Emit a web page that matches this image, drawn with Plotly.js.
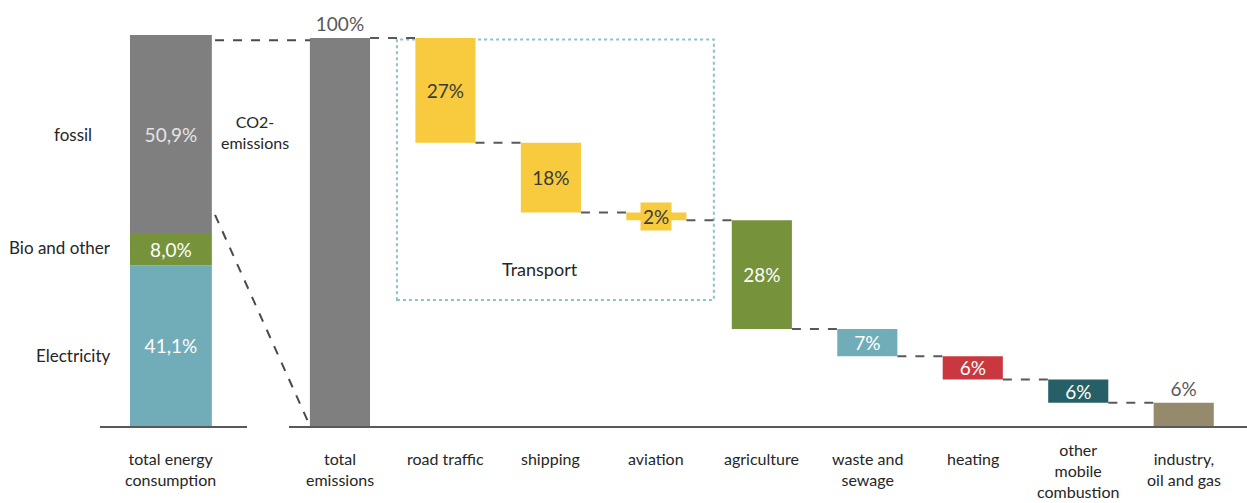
<!DOCTYPE html>
<html>
<head>
<meta charset="utf-8">
<script src="https://cdn.plot.ly/plotly-3.0.1.min.js"></script>
<style>html,body{margin:0;padding:0;background:#fff;}#chart{width:1247px;height:503px;}</style>
</head>
<body>
<div id="chart"></div>
<script>
// ---- data ----
const energyCategory = ['total energy<br>consumption'];
const energyLabels = ['Electricity', 'Bio and other', 'fossil'];   // bottom to top
const energyValues = [41.1, 8.0, 50.9];
const energyText = ['41,1%', '8,0%', '50,9%'];
const energyColors = ['#71adb9', '#76923b', '#7f7f7f'];
const energyTextColors = ['#ffffff', '#ffffff', '#e4e4e4'];

const emissionCategories = ['total<br>emissions', 'road traffic', 'shipping', 'aviation', 'agriculture',
  'waste and<br>sewage', 'heating', 'other<br>mobile<br>combustion', 'industry,<br>oil and gas'];
const emissionValues = [100, 27, 18, 2, 28, 7, 6, 6, 6];
const emissionText = ['100%', '27%', '18%', '2%', '28%', '7%', '6%', '6%', '6%'];
const emissionColors = ['#7f7f7f', '#f8cb3e', '#f8cb3e', '#f8cb3e', '#76923b', '#71adb9', '#c9383f', '#265f66', '#958a6c'];
const emissionTextColors = ['#595959', '#3a3a3a', '#3a3a3a', '#3a3a3a', '#ffffff', '#ffffff', '#ffffff', '#ffffff', '#595959'];
const emissionTextPos = ['outside', 'inside', 'inside', 'none', 'inside', 'inside', 'inside', 'inside', 'outside'];

// ---- derived ----
const FONT = 'Lato, "Open Sans", sans-serif';
const energyBase = [];
let acc = 0;
energyValues.forEach(v => { energyBase.push(acc); acc += v; });

const emisX = emissionValues.map((_, i) => i);
const emisBase = [];
const levels = [];
let level = 0;
emissionValues.forEach((v, i) => {
  if (i === 0) { emisBase.push(0); level = v; }
  else { emisBase.push(level - v); level = level - v; }
  levels.push(level);
});
const W = 0.57;
const connX = [], connY = [];
for (let i = 0; i < emissionValues.length - 1; i++) {
  connX.push(i + W / 2, i + 1 - W / 2, null);
  connY.push(levels[i], levels[i], null);
}

const traces = [];
energyValues.forEach((v, i) => {
  traces.push({
    type: 'bar', x: [0], y: [v], base: [energyBase[i]], width: 1.0,
    xaxis: 'x', yaxis: 'y', name: energyLabels[i],
    marker: {color: energyColors[i]},
    text: [energyText[i]], textposition: 'inside', insidetextanchor: 'middle',
    textfont: {family: FONT, size: 19, color: energyTextColors[i]},
    constraintext: 'none', hoverinfo: 'skip'
  });
});
traces.push({
  type: 'bar', x: emisX, y: emissionValues, base: emisBase, width: W,
  xaxis: 'x2', yaxis: 'y2',
  marker: {color: emissionColors},
  text: emissionText, textposition: emissionTextPos, insidetextanchor: 'middle',
  textfont: {family: FONT, size: 19, color: emissionTextColors},
  constraintext: 'none', cliponaxis: false, hoverinfo: 'skip'
});
traces.push({
  type: 'scatter', mode: 'lines', x: connX, y: connY, xaxis: 'x2', yaxis: 'y2',
  line: {color: '#595959', width: 2, dash: 'dash'}, hoverinfo: 'skip', connectgaps: false
});

// label annotations
const annotations = [];
const sideX = [0.011, 0.011, -0.0235];
const sideAnchor = ['right', 'right', 'center'];
const sideShift = [-10, 2, 0];
energyValues.forEach((v, i) => {
  annotations.push({
    xref: 'paper', yref: 'y', x: sideX[i], y: energyBase[i] + v / 2, yshift: sideShift[i],
    text: energyLabels[i], showarrow: false, xanchor: sideAnchor[i], yanchor: 'middle',
    font: {family: FONT, size: 17, color: '#262626'}
  });
});
annotations.push({
  xref: 'x2', yref: 'y2', x: 3, y: emisBase[3] + emissionValues[3] / 2,
  text: emissionText[3], showarrow: false, bgcolor: '#f8cb3e', borderpad: 2,
  xanchor: 'center', yanchor: 'middle',
  font: {family: FONT, size: 19, color: '#3a3a3a'}
});
annotations.push({
  xref: 'paper', yref: 'y2', x: 0.135, y: 75.8, text: 'CO2-<br>emissions', showarrow: false,
  xanchor: 'center', yanchor: 'middle',
  font: {family: FONT, size: 16, color: '#262626'}
});
annotations.push({
  xref: 'x2', yref: 'y2', x: 1.9, y: 40.5, text: 'Transport', showarrow: false,
  xanchor: 'center', yanchor: 'middle',
  font: {family: FONT, size: 18, color: '#262626'}
});

// category labels under the axes (placed via the axes' own x scale)
const catFont = {family: FONT, size: 16, color: '#262626'};
function catLabel(xref, x, text) {
  const lines = text.split('<br>').length;
  if (lines >= 3) {
    return {xref: xref, yref: 'paper', x: x, y: -0.1033, text: text, showarrow: false,
      xanchor: 'center', yanchor: 'middle', font: catFont};
  }
  return {xref: xref, yref: 'paper', x: x, y: -0.05, text: text, showarrow: false,
    xanchor: 'center', yanchor: 'top', font: catFont};
}
energyCategory.forEach((c, i) => annotations.push(catLabel('x', i, c)));
emissionCategories.forEach((c, i) => annotations.push(catLabel('x2', emisX[i], c)));

const shapes = [
  {type: 'rect', xref: 'x2', yref: 'y2', x0: 0.54, x1: 3.545, y0: 32.5, y1: 99.6,
   line: {color: '#8ec1cc', width: 2, dash: 'dot'}, layer: 'below'},
  {type: 'line', xref: 'paper', yref: 'y2', x0: 0.1003, x1: 0.1831, y0: 99.4, y1: 99.4,
   line: {color: '#4a4a4a', width: 2, dash: 'dash'}},
  {type: 'line', xref: 'paper', yref: 'y', x0: 0.1003, x1: 0.1831, y0: 54, y1: 0,
   line: {color: '#4a4a4a', width: 2, dash: 'dash'}}
];

const layout = {
  width: 1247, height: 503,
  margin: {l: 100, r: 0, t: 0, b: 77},
  paper_bgcolor: '#ffffff', plot_bgcolor: 'rgba(0,0,0,0)',
  showlegend: false, barmode: 'overlay',
  font: {family: FONT, size: 16, color: '#262626'},
  xaxis: {domain: [0, 0.128], range: [-0.866, 0.927], tickvals: [0], showticklabels: false,
    showgrid: false, zeroline: false, showline: true, linecolor: '#595959', linewidth: 2,
    ticks: '', fixedrange: true},
  yaxis: {domain: [0, 1], range: [0, 108.95], visible: false, fixedrange: true},
  xaxis2: {domain: [0.1648, 1], range: [-0.483, 8.6], tickvals: emisX, showticklabels: false,
    showgrid: false, zeroline: false, showline: true, linecolor: '#595959', linewidth: 2,
    ticks: '', anchor: 'y2', fixedrange: true},
  yaxis2: {domain: [0, 1], range: [0, 109.8], visible: false, anchor: 'x2', fixedrange: true},
  annotations: annotations,
  shapes: shapes
};

Plotly.newPlot('chart', traces, layout, {displayModeBar: false, staticPlot: true});
</script>
</body>
</html>
